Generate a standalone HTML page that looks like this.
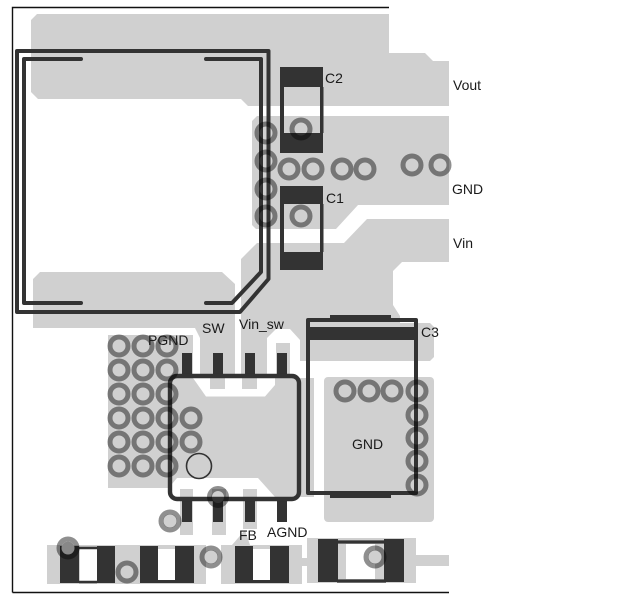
<!DOCTYPE html>
<html><head><meta charset="utf-8"><style>
html,body{margin:0;padding:0;background:#fff;width:644px;height:599px;overflow:hidden}
svg{display:block}
text{font-family:"Liberation Sans",sans-serif;font-size:14px;fill:#1a1a1a}
.g{fill:#d0d0d0}
.w{fill:#fff}
.d{fill:#333}
.t{fill:none;stroke:#333;stroke-width:4;stroke-linecap:round;stroke-linejoin:round}
.v{fill:none;stroke:#8f8f8f;stroke-width:5;mix-blend-mode:multiply}
</style></head><body>
<svg width="644" height="599" viewBox="0 0 644 599" xmlns="http://www.w3.org/2000/svg">
<rect width="644" height="599" fill="#fff"/>
<!-- gray copper -->
<polygon class="g" points="37,14 389,14 389,53 425,53 433,61 449,61 449,106 248,106 241,99 38,99 31,92 31,20"/>
<polygon class="g" points="257,116 449,116 449,205 358,205 336,229 256,229 252,225 252,121"/>
<polygon class="g" points="257,243 344,243 367,219 449,219 449,262 402,262 393,271 393,305 400,316 400,323 430,323 434,327 434,357 430,361 300,361 300,340 290,329 276,329 267,338 267,378 241,378 241,259"/>
<polygon class="g" points="33,279 40,272 222,272 235,284 235,378 200,378 200,338 195,328 33,328"/>
<rect class="g" x="108" y="335" width="85" height="43"/>
<rect class="g" x="108" y="378" width="70" height="110"/>
<rect class="g" x="172" y="378" width="142" height="119"/>
<rect class="g" x="276" y="343" width="14" height="40"/>
<!-- chip cuts -->
<polygon class="w" points="193,378 206,396.5 265,396.5 275,385 275,378"/>
<rect class="g" x="210" y="378" width="15" height="11"/>
<rect class="g" x="242" y="378" width="15" height="11"/>
<polygon class="w" points="172,497 172,484 177,478 258,478 275,497"/>
<rect class="g" x="180" y="489" width="13" height="46"/>
<rect class="g" x="212" y="489" width="14" height="46"/>
<rect class="g" x="243" y="489" width="14" height="40"/>
<!-- right GND -->
<rect class="g" x="324" y="377" width="110" height="145" rx="4"/>
<!-- bottom row gray -->
<rect class="g" x="47" y="545" width="159" height="39"/>
<polygon class="g" points="221,545 232,545 245,530 250,545 302,545 302,584 221,584"/>
<rect class="g" x="302" y="558" width="5" height="8"/>
<rect class="g" x="307" y="538" width="109" height="45"/>
<rect class="g" x="416" y="555" width="33" height="11"/>
<rect class="w" x="80" y="549" width="17" height="32"/>
<rect class="w" x="158" y="549" width="17" height="31"/>
<rect class="w" x="253" y="549" width="17" height="31"/>
<rect class="w" x="346" y="544" width="29" height="35"/>
<!-- via centres sitting on white -->
<circle class="g" cx="170" cy="521" r="7"/>
<circle class="g" cx="211" cy="557" r="7"/>
<circle class="g" cx="375" cy="557" r="7"/>
<circle class="g" cx="218" cy="497" r="7"/>
<!-- frame -->
<path d="M12.5,592.5 V7.5 H389 M12.5,592.5 H449" fill="none" stroke="#111" stroke-width="1.4"/>
<!-- C2 / C1 -->
<rect class="d" x="280" y="67" width="43" height="20"/>
<rect class="d" x="280" y="133" width="43" height="20"/>
<rect class="d" x="280" y="87" width="4" height="46"/>
<rect class="d" x="320" y="87" width="3.5" height="46"/>
<rect class="d" x="280" y="186" width="43" height="18"/>
<rect class="d" x="280" y="252" width="43" height="18"/>
<rect class="d" x="280" y="204" width="4" height="48"/>
<rect class="d" x="320" y="204" width="3.5" height="48"/>
<!-- pins -->
<rect class="d" x="182" y="353" width="10" height="23"/>
<rect class="d" x="213" y="353" width="10" height="23"/>
<rect class="d" x="245" y="353" width="10" height="23"/>
<rect class="d" x="277" y="353" width="10" height="23"/>
<rect class="d" x="182" y="499" width="10" height="23"/>
<rect class="d" x="213" y="499" width="10" height="23"/>
<rect class="d" x="245" y="499" width="10" height="23"/>
<rect class="d" x="277" y="499" width="10" height="23"/>
<!-- bottom components -->
<rect class="d" x="60" y="546" width="19" height="37"/>
<rect class="d" x="97" y="546" width="18" height="37"/>
<path d="M79,548 H97 M79,582 H97" stroke="#333" stroke-width="2.5"/>
<rect class="d" x="140" y="546" width="18" height="37"/>
<rect class="d" x="175" y="546" width="19" height="37"/>
<path d="M158,581.5 H175" stroke="#333" stroke-width="3"/>
<rect class="d" x="235" y="546" width="18" height="37"/>
<rect class="d" x="270" y="546" width="19" height="37"/>
<path d="M253,581.5 H270" stroke="#333" stroke-width="3"/>
<rect class="d" x="318" y="539" width="20" height="43"/>
<rect class="d" x="384" y="539" width="20" height="43"/>
<path d="M337,542 H386 M337,581 H386" stroke="#333" stroke-width="3.2"/>
<!-- C3 -->
<rect class="d" x="330" y="315" width="61" height="6"/>
<rect class="d" x="330" y="492" width="61" height="6"/>
<rect class="d" x="308" y="327" width="108" height="13"/>
<rect x="308" y="320" width="108" height="173" fill="none" stroke="#333" stroke-width="4" stroke-linejoin="round"/>
<!-- inductor traces -->
<path class="t" d="M17,51 H268.5 V279 L240,312 H17 Z"/>
<path class="t" d="M81,59 H24 V303 H81"/>
<path class="t" d="M206,59 H261 V272 L232,303 H206"/>
<!-- chip -->
<rect x="170" y="376" width="129" height="123" rx="7" fill="none" stroke="#333" stroke-width="4.4"/>
<circle cx="199" cy="466" r="12.5" fill="none" stroke="#333" stroke-width="1.6"/>
<!-- vias -->
<circle class="v" cx="266" cy="133" r="9"/><circle class="v" cx="266" cy="161" r="9"/>
<circle class="v" cx="266" cy="189" r="9"/><circle class="v" cx="266" cy="216" r="9"/>
<circle class="v" cx="289" cy="169" r="9"/><circle class="v" cx="313" cy="169" r="9"/>
<circle class="v" cx="342" cy="169" r="9"/><circle class="v" cx="365" cy="169" r="9"/>
<circle class="v" cx="412" cy="165" r="9"/><circle class="v" cx="440" cy="165" r="9"/>
<circle class="v" cx="301" cy="129" r="9"/><circle class="v" cx="301" cy="216" r="9"/>
<circle class="v" cx="119" cy="346" r="9"/><circle class="v" cx="143" cy="346" r="9"/><circle class="v" cx="167" cy="346" r="9"/>
<circle class="v" cx="119" cy="370" r="9"/><circle class="v" cx="143" cy="370" r="9"/><circle class="v" cx="167" cy="370" r="9"/>
<circle class="v" cx="119" cy="394" r="9"/><circle class="v" cx="143" cy="394" r="9"/><circle class="v" cx="167" cy="394" r="9"/>
<circle class="v" cx="119" cy="418" r="9"/><circle class="v" cx="143" cy="418" r="9"/><circle class="v" cx="167" cy="418" r="9"/><circle class="v" cx="191" cy="418" r="9"/>
<circle class="v" cx="119" cy="442" r="9"/><circle class="v" cx="143" cy="442" r="9"/><circle class="v" cx="167" cy="442" r="9"/><circle class="v" cx="191" cy="442" r="9"/>
<circle class="v" cx="119" cy="466" r="9"/><circle class="v" cx="143" cy="466" r="9"/><circle class="v" cx="167" cy="466" r="9"/>
<circle class="v" cx="218" cy="497" r="8.5"/><circle class="v" cx="170" cy="521" r="9"/>
<circle class="v" cx="345" cy="391" r="9"/><circle class="v" cx="369" cy="391" r="9"/><circle class="v" cx="392" cy="391" r="9"/><circle class="v" cx="417" cy="391" r="9"/>
<circle class="v" cx="417" cy="415" r="9"/><circle class="v" cx="417" cy="438" r="9"/><circle class="v" cx="417" cy="461" r="9"/><circle class="v" cx="417" cy="485" r="9"/>
<circle class="v" cx="68" cy="548" r="9"/><circle class="v" cx="127" cy="572" r="9"/><circle class="v" cx="211" cy="557" r="9"/><circle class="v" cx="375" cy="557" r="9"/>
<circle cx="68" cy="548" r="6.5" fill="#888"/>
<!-- labels -->
<text x="453" y="90">Vout</text>
<text x="452" y="194">GND</text>
<text x="453" y="248">Vin</text>
<text x="325" y="83">C2</text>
<text x="326" y="203">C1</text>
<text x="421" y="337">C3</text>
<text x="239" y="329">Vin_sw</text>
<text x="202" y="333">SW</text>
<text x="148" y="345">PGND</text>
<text x="352" y="449">GND</text>
<text x="239" y="540">FB</text>
<text x="267" y="537">AGND</text>
</svg>
</body></html>
